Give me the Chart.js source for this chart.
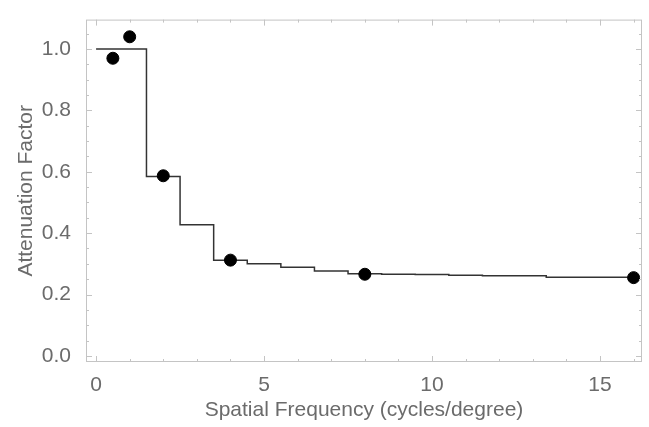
<!DOCTYPE html>
<html>
<head>
<meta charset="utf-8">
<script src="https://cdn.jsdelivr.net/npm/chart.js@4"></script>
<style>
  html, body { margin: 0; padding: 0; background: #fff; }
  #wrap { width: 649px; height: 427px; }
</style>
</head>
<body>
<div id="wrap"><canvas id="c" width="649" height="427"></canvas></div>
<script>
// measured points
const freqs = [0.5, 1, 2, 4, 8, 16];
const attenuation = [0.97, 1.04, 0.587, 0.312, 0.266, 0.255];

// step model: edges and level held from each edge
const stepEdges = [0, 1.5, 2.5, 3.5, 4.5, 5.5, 6.5, 7.5, 8.5, 9.5, 10.5, 11.5, 13.4, 16];
const stepLevels = [1.0, 0.585, 0.427, 0.312, 0.300, 0.289, 0.277, 0.268, 0.266, 0.265, 0.263, 0.261, 0.256, 0.256];

const xTicks = [0, 5, 10, 15];
const yTicks = [0, 0.2, 0.4, 0.6, 0.8, 1.0];
const xRange = [-0.3, 16.25];
const yRange = [-0.02, 1.096];

const frameColor = '#c4c4c4';
const textColor = '#6b6b6b';

// inward ticks + top/right frame like the original plot
const frameTicks = {
  id: 'frameTicks',
  afterDraw(chart) {
    const { ctx, chartArea: a, scales } = chart;
    const x = scales.x, y = scales.y;
    ctx.save();
    ctx.strokeStyle = frameColor;
    ctx.lineWidth = 1;
    ctx.strokeRect(a.left + 0.5, a.top + 0.5, a.right - a.left - 1, a.bottom - a.top - 1);
    ctx.beginPath();
    for (let v = 0; v <= 16; v++) {
      const px = Math.round(x.getPixelForValue(v)) + 0.5;
      const len = v % 5 === 0 ? 6 : 3;
      ctx.moveTo(px, a.bottom); ctx.lineTo(px, a.bottom - len);
      ctx.moveTo(px, a.top); ctx.lineTo(px, a.top + len);
    }
    for (let i = 0; i <= 21; i++) {
      const v = i * 0.05;
      const py = Math.round(y.getPixelForValue(v)) + 0.5;
      const len = i % 4 === 0 ? 6 : 3;
      ctx.moveTo(a.left, py); ctx.lineTo(a.left + len, py);
      ctx.moveTo(a.right, py); ctx.lineTo(a.right - len, py);
    }
    ctx.stroke();
    ctx.restore();
  }
};

new Chart(document.getElementById('c'), {
  type: 'scatter',
  data: {
    datasets: [
      {
        label: 'model',
        type: 'line',
        data: stepEdges.map((e, i) => ({ x: e, y: stepLevels[i] })),
        stepped: true,
        borderColor: '#333',
        borderWidth: 1.5,
        pointRadius: 0,
        fill: false,
        order: 2
      },
      {
        label: 'data',
        data: freqs.map((f, i) => ({ x: f, y: attenuation[i] })),
        backgroundColor: '#000',
        borderColor: '#000',
        pointRadius: 6,
        order: 1
      }
    ]
  },
  options: {
    responsive: false,
    animation: false,
    layout: { padding: { left: 10, top: 15, right: 4, bottom: 0 } },
    plugins: { legend: { display: false }, tooltip: { enabled: false } },
    scales: {
      x: {
        type: 'linear',
        min: xRange[0],
        max: xRange[1],
        grid: { display: false },
        border: { display: false },
        afterBuildTicks: s => { s.ticks = xTicks.map(v => ({ value: v })); },
        afterFit: s => { s.height = 65; },
        ticks: {
          color: textColor,
          font: { family: 'Liberation Sans, Arial', size: 21 },
          padding: 3,
          maxRotation: 0
        },
        title: {
          display: true,
          text: 'Spatial Frequency (cycles/degree)',
          color: textColor,
          font: { family: 'Liberation Sans, Arial', size: 21 },
          padding: { top: 2 }
        }
      },
      y: {
        min: yRange[0],
        max: yRange[1],
        grid: { display: false },
        border: { display: false },
        afterBuildTicks: s => { s.ticks = yTicks.map(v => ({ value: v })); },
        afterFit: s => { s.width = 76; },
        ticks: {
          color: textColor,
          font: { family: 'Liberation Sans, Arial', size: 21 },
          padding: 7,
          callback: v => v.toFixed(1)
        },
        title: {
          display: true,
          text: 'Attenuation Factor',
          color: textColor,
          font: { family: 'Liberation Sans, Arial', size: 21 },
          padding: { bottom: 4 }
        }
      }
    }
  },
  plugins: [frameTicks]
});
</script>
</body>
</html>
